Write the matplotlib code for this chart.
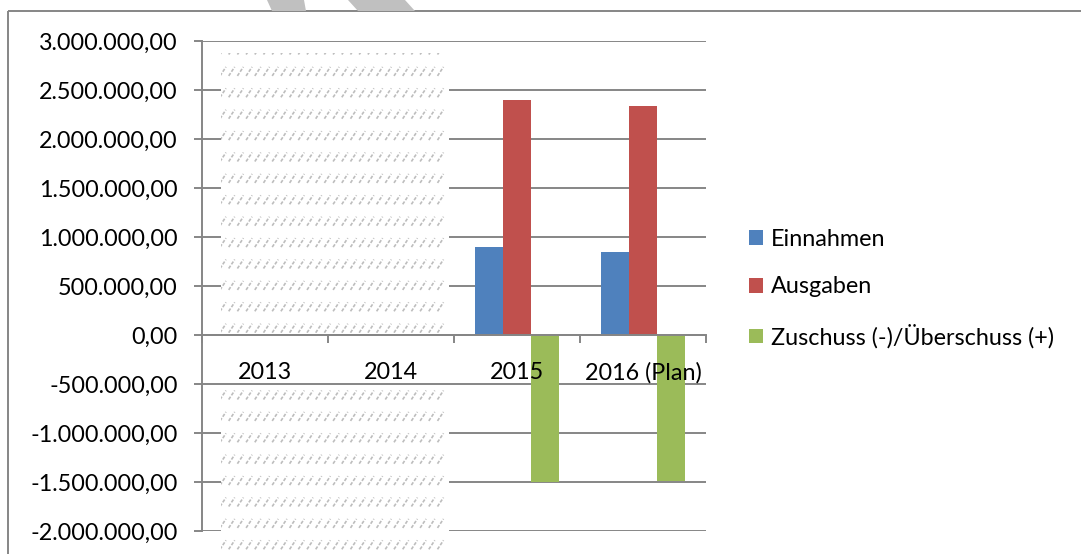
import matplotlib

matplotlib.use("Agg")
import matplotlib.pyplot as plt
from matplotlib.collections import LineCollection
from matplotlib.patches import Patch, Polygon, Rectangle
from matplotlib.ticker import FixedLocator, FuncFormatter

# data
years = ["2013", "2014", "2015", "2016 (Plan)"]
einnahmen = [0, 0, 900000, 845000]
ausgaben = [0, 0, 2400000, 2335000]
zuschuss = [0, 0, -1500000, -1490000]
series_names = ["Einnahmen", "Ausgaben", "Zuschuss (-)/Überschuss (+)"]
series_colors = ["#4F81BD", "#C0504D", "#9BBB59"]
y_ticks = [3000000, 2500000, 2000000, 1500000, 1000000, 500000, 0,
           -500000, -1000000, -1500000, -2000000]

W, H = 1081, 554
GRID = "#868686"
FS = 16.8

plt.rcParams["font.family"] = ["Lato", "DejaVu Sans"]


def de_fmt(v, pos=None):
    s = f"{abs(v):,.2f}".replace(",", "X").replace(".", ",").replace("X", ".")
    return ("-" if v < 0 else "") + s


fig = plt.figure(figsize=(W / 100, H / 100), dpi=100)
ax = fig.add_axes([202 / W, (H - 531) / H, 504 / W, 490 / H])

bar_w = 1 / 4.5
xs = list(range(len(years)))
for i, (vals, name, col) in enumerate(zip([einnahmen, ausgaben, zuschuss], series_names, series_colors)):
    ax.bar([x + (i - 1) * bar_w for x in xs], vals, width=bar_w, color=col,
           label=name, zorder=2)

for y in y_ticks:
    ax.axhline(y, color=GRID, lw=1.4, zorder=0)

# keep tick labels above the bars (the 2015 label overlaps the green bar)
ax.set_axisbelow(False)

ax.set_xlim(-0.5, len(years) - 0.5)
ax.set_ylim(-2000000, 3000000)

for side in ["top", "right"]:
    ax.spines[side].set_visible(False)
ax.spines["left"].set_color(GRID)
ax.spines["left"].set_linewidth(1.4)
ax.spines["bottom"].set_position(("data", 0))
ax.spines["bottom"].set_color(GRID)
ax.spines["bottom"].set_linewidth(1.4)

ax.yaxis.set_major_locator(FixedLocator(y_ticks))
ax.yaxis.set_major_formatter(FuncFormatter(de_fmt))
ax.tick_params(axis="y", direction="out", length=6, width=1.4, color=GRID,
               pad=11.5, labelsize=FS)

ax.xaxis.set_major_locator(FixedLocator([x + 0.5 for x in range(-1, len(years))]))
ax.xaxis.set_major_formatter(FuncFormatter(lambda v, p: ""))
ax.xaxis.set_minor_locator(FixedLocator(xs))
ax.xaxis.set_minor_formatter(FuncFormatter(lambda v, p: years[int(round(v))]))
ax.tick_params(axis="x", which="major", direction="out", length=6, width=1.4, color=GRID)
ax.tick_params(axis="x", which="minor", length=0, pad=19.5, labelsize=FS)

handles = [Patch(facecolor=c, edgecolor="none") for c in series_colors]
fig.legend(handles, series_names, loc="upper left", bbox_to_anchor=(749 / W, 1 - 229 / H),
           frameon=False, fontsize=FS, handlelength=0.6, handleheight=0.6,
           handletextpad=0.35, labelspacing=1.13, borderpad=0, borderaxespad=0)

# overlay in pixel coordinates: frame, watermark stripes and hatched cover
ov = fig.add_axes([0, 0, 1, 1], zorder=3)
ov.set_xlim(0, W)
ov.set_ylim(H, 0)
ov.axis("off")
ov.patch.set_alpha(0)

ov.add_patch(Rectangle((8, 11), 1200, 800, fill=False, edgecolor=GRID, lw=1.4))
ov.add_patch(Polygon([(267, 0), (304, 0), (306, 11), (272, 11)], color="#c0c0c0", lw=0))
ov.add_patch(Polygon([(348, 0), (405, 0), (415, 11), (358, 11)], color="#c0c0c0", lw=0))

for top, bottom, first_row in [(53, 333, 50), (386, 554, 395)]:
    rect = Rectangle((221, top), 228, bottom - top, facecolor="white", edgecolor="none")
    ov.add_patch(rect)
    segs = []
    yc = first_row
    while yc < bottom + 10:
        xc = 223
        while xc < 449:
            segs.append([(xc - 3, yc + 4.5), (xc + 3, yc - 4.5)])
            xc += 8.7
        yc += 21.4
    lc = LineCollection(segs, colors="#bdbdbd", linewidths=1.2, linestyles=(0, (2, 1)))
    ov.add_collection(lc)
    lc.set_clip_path(rect)

fig.savefig("out.png", dpi=100)
